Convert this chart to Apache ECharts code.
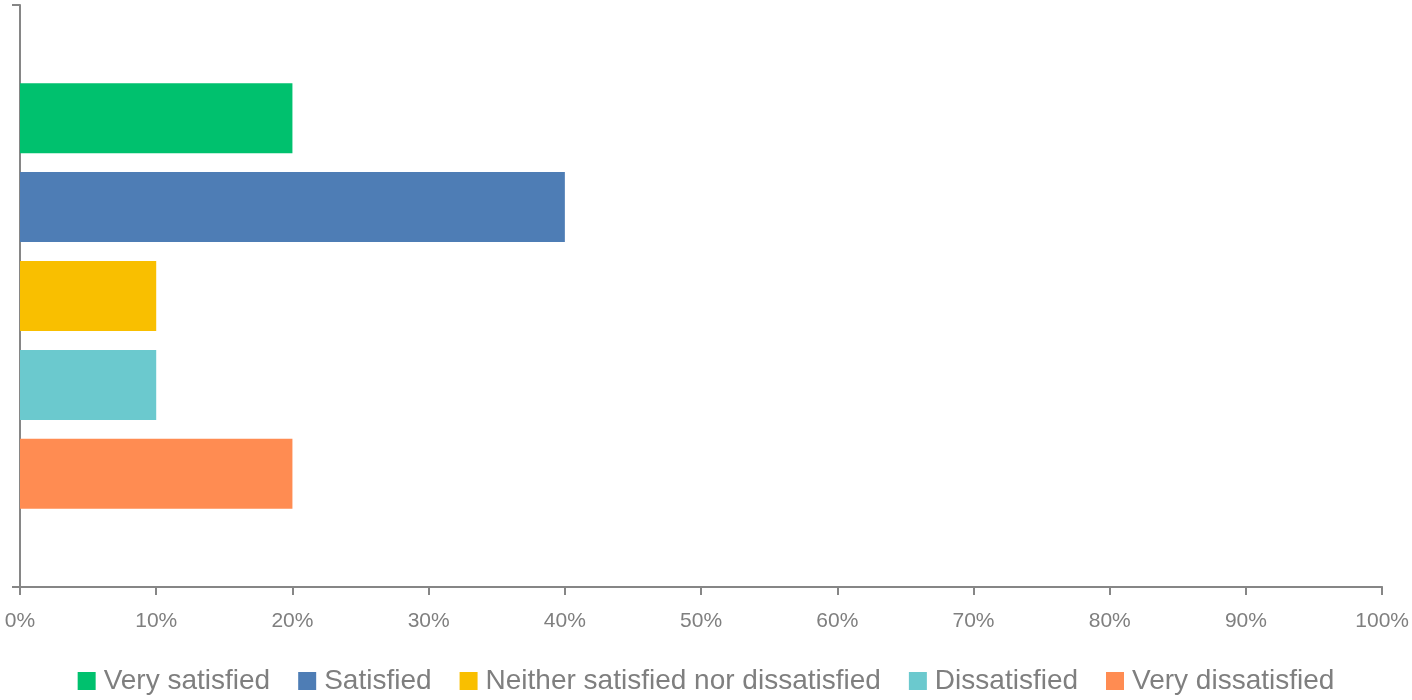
<!DOCTYPE html>
<html>
<head>
<meta charset="utf-8">
<script src="https://cdn.jsdelivr.net/npm/echarts@6/dist/echarts.min.js"></script>
<style>
  html, body { margin: 0; padding: 0; background: #fff; }
  #chart { width: 1412px; height: 700px; }
</style>
</head>
<body>
<div id="chart"></div>
<script>
const categories = [""];
const seriesNames = ["Very satisfied", "Satisfied", "Neither satisfied nor dissatisfied", "Dissatisfied", "Very dissatisfied"];
const seriesValues = [[0.2], [0.4], [0.1], [0.1], [0.2]];
const seriesColors = ["#00C16E", "#4E7DB5", "#F9BF00", "#6BC9CE", "#FF8C52"];

const axisColor = "#868686";
const textColor = "#7F7F7F";

const chart = echarts.init(document.getElementById("chart"));

const option = {
  animation: false,
  grid: { left: 20, right: 29, top: 5, bottom: 113, containLabel: false },
  legend: {
    bottom: 0,
    left: "center",
    itemWidth: 18,
    itemHeight: 18,
    itemGap: 28,
    icon: "rect",
    textStyle: { color: textColor, fontSize: 28, fontFamily: "Liberation Sans", padding: [0, 0, 0, 3] },
    data: seriesNames
  },
  xAxis: {
    type: "value",
    min: 0,
    max: 1,
    interval: 0.1,
    axisLine: { show: true, lineStyle: { color: axisColor, width: 2 } },
    axisTick: { show: true, length: 8, lineStyle: { color: axisColor, width: 2 } },
    splitLine: { show: false },
    axisLabel: {
      color: textColor,
      fontSize: 21,
      fontFamily: "Liberation Sans",
      margin: 24,
      formatter: v => Math.round(v * 100) + "%"
    }
  },
  yAxis: {
    type: "category",
    inverse: true,
    data: categories,
    axisLine: { show: true, lineStyle: { color: axisColor, width: 2 } },
    axisTick: { show: true, length: 8, lineStyle: { color: axisColor, width: 2 } },
    axisLabel: { show: false }
  },
  series: seriesNames.map((name, i) => ({
    name: name,
    type: "bar",
    data: seriesValues[i],
    barWidth: 70,
    barGap: "27%",
    itemStyle: { color: seriesColors[i] }
  }))
};

chart.setOption(option);
</script>
</body>
</html>
